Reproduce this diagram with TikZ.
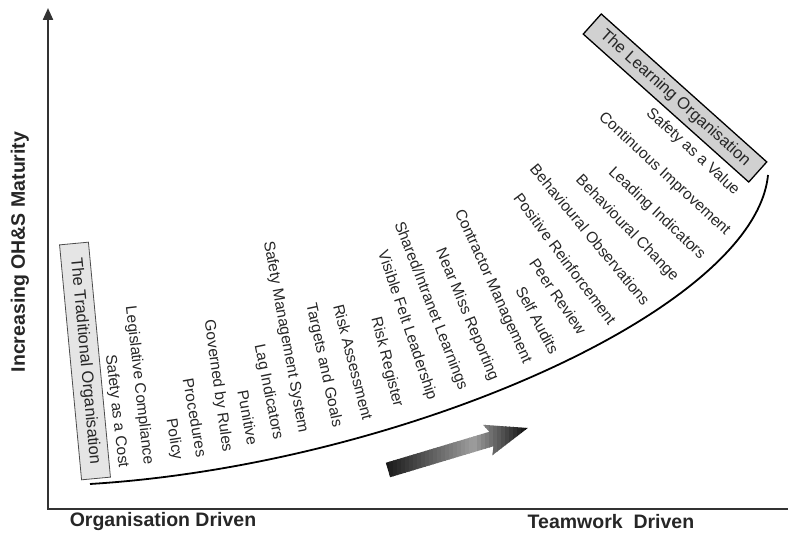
\documentclass[tikz,border=0pt]{standalone}
\usepackage{fontspec}
\setmainfont{Liberation Sans}
\usetikzlibrary{arrows.meta}

\tikzset{
  practice/.style={anchor=east,inner sep=0pt,text=black!85,font=\fontsize{15.5}{18}\selectfont},
  orgbox/.style={draw,text=black!85,inner sep=0pt,font=\fontsize{16.5}{19}\selectfont},
  axislabel/.style={text=black!85,font=\fontsize{19.5}{23}\selectfont\bfseries},
  axisline/.style={line width=2.2pt,black!80,line join=miter}
}

\begin{document}
\begin{tikzpicture}[x=1pt,y=-1pt]
  \useasboundingbox (0,0) rectangle (788,537);

  \coordinate (origin) at (48,509);
  \coordinate (ytop) at (48,8);
  \coordinate (xend) at (788,509);
  \draw[axisline,{Triangle[length=12pt,width=10pt]}-] (ytop) -- (origin) -- (xend);

  \node[axislabel,rotate=90] (maturity) at (20,252) {Increasing OH\&S Maturity};
  \node[axislabel] (orgdriven) at (163,522) {Organisation Driven};
  \node[axislabel] (teamdriven) at (611,522) {Teamwork~ Driven};

  \coordinate (cstart) at (90,484);
  \coordinate (cend) at (768,175);
  \draw[line width=1.8pt] (cstart) .. controls (400,465) and (755,310) .. (cend);

  \node[orgbox,fill=black!10,draw=black!70,line width=0.8pt,minimum width=236pt,minimum height=29pt,rotate=-84.65] (traditional) at (85,361) {The Traditional Organisation};
  \node[orgbox,fill=black!18,line width=1.3pt,minimum width=222pt,minimum height=27pt,rotate=-41.8] (learning) at (675,98) {The Learning Organisation};

  \node[practice,rotate=-83.4] (cost) at (123,468) {Safety as a Cost};
  \node[practice,rotate=-83.5] (legislative) at (148,465) {Legislative Compliance};
  \node[practice,rotate=-81] (policy) at (177,460) {Policy};
  \node[practice,rotate=-80] (procedures) at (202,457) {Procedures};
  \node[practice,rotate=-82] (rules) at (227,452) {Governed by Rules};
  \node[practice,rotate=-79.5] (punitive) at (253,445) {Punitive};
  \node[practice,rotate=-78.5] (lag) at (278,440) {Lag Indicators};
  \node[practice,rotate=-79.6] (sms) at (303,433) {Safety Management System};
  \node[practice,rotate=-77.8] (targets) at (337,427) {Targets and Goals};
  \node[practice,rotate=-75.6] (assessment) at (368,420) {Risk Assessment};
  \node[practice,rotate=-75.7] (register) at (398,407) {Risk Register};
  \node[practice,rotate=-71.3] (leadership) at (432,400) {Visible Felt Leadership};
  \node[practice,rotate=-68.8] (learnings) at (463,390) {Shared/Intranet Learnings};
  \node[practice,rotate=-67.4] (nearmiss) at (494,380) {Near Miss Reporting};
  \node[practice,rotate=-65.7] (contractor) at (527,363) {Contractor Management};
  \node[practice,rotate=-62] (audits) at (555,353) {Self Audits};
  \node[practice,rotate=-55.6] (peer) at (583,333) {Peer Review};
  \node[practice,rotate=-53.2] (reinforcement) at (613,323) {Positive Reinforcement};
  \node[practice,rotate=-50.3] (observations) at (647,303) {Behavioural Observations};
  \node[practice,rotate=-45.8] (change) at (676,279) {Behavioural Change};
  \node[practice,rotate=-43.2] (leading) at (703,257) {Leading Indicators};
  \node[practice,rotate=-42.8] (improvement) at (728,233) {Continuous Improvement};
  \node[practice,rotate=-42.7] (value) at (737,193) {Safety as a Value};

  \begin{scope}
    \clip (385.8,462.8) -- (489.3,431.8) -- (483.0,424.8) -- (527.8,428.0)
      -- (492.2,455.4) -- (493.6,446.2) -- (390.2,477.2) -- cycle;
    \foreach \i [evaluate=\i as \t using \i/35,
                 evaluate=\i as \p using {ifthenelse(\t<0.62,90-52*\t/0.62,38+56*(\t-0.62)/0.38)}] in {0,...,35}
      \fill[black!\p] ({385+\i*4},415) rectangle ({389.6+\i*4},482);
  \end{scope}
\end{tikzpicture}
\end{document}
